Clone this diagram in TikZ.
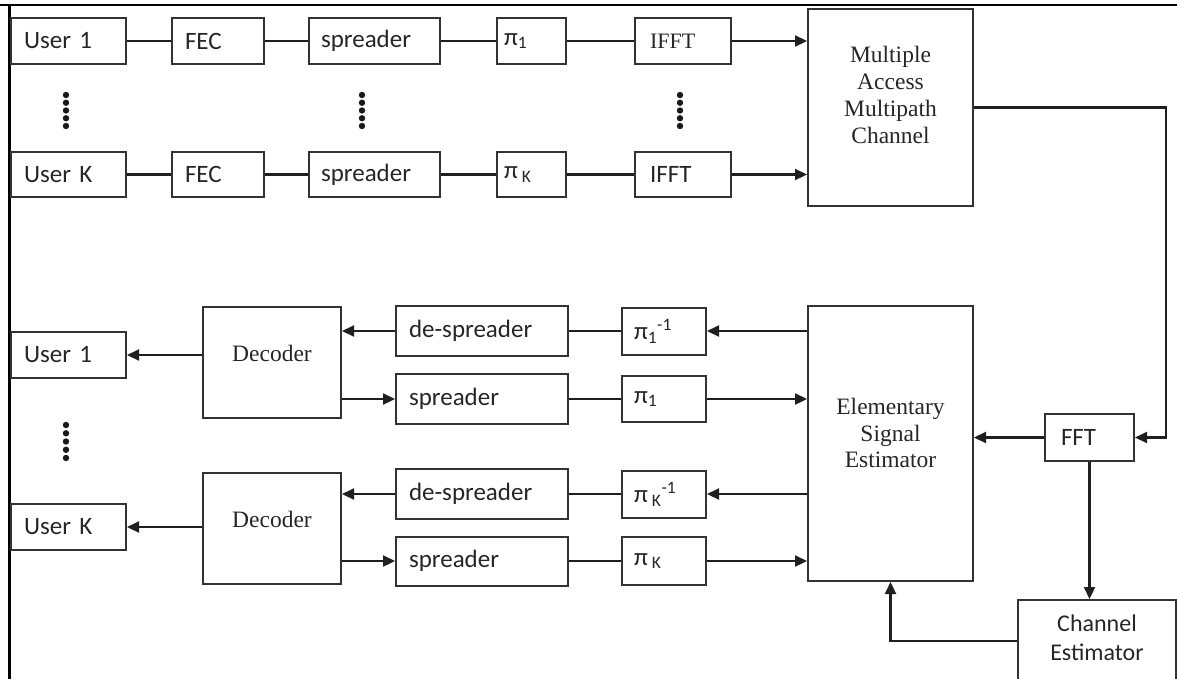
\documentclass[tikz,border=0pt]{standalone}
\usepackage{fontspec}
\setmainfont{Liberation Serif}
\newfontfamily\calib{Carlito}
\usetikzlibrary{arrows.meta}
\begin{document}
\begin{tikzpicture}[x=1pt,y=-1pt,
  box/.style={draw=black!80, line width=2pt, inner sep=0pt, text=black!85},
  sbox/.style={box, font=\calib\fontsize{25}{29}\selectfont, align=left},
  rbox/.style={box, font=\fontsize{22}{26}\selectfont, align=left},
  tlabel/.style={font=\fontsize{23.5}{26.8}\selectfont, align=center, inner sep=0pt, text=black!85},
  clabel/.style={font=\calib\fontsize{24}{29}\selectfont, align=center, inner sep=0pt, text=black!85},
  conn/.style={line width=2.2pt, draw=black!88},
  arr/.style={conn, -{Triangle[length=12pt,width=11pt]}},
  frame/.style={line width=2.6pt, draw=black}
]
\useasboundingbox (0,0) rectangle (1177,678);
\clip (0,0) rectangle (1177,678);

% outer frame lines
\draw[frame] (0,5) -- (1177,5);
\draw[frame] (9.5,5) -- (9.5,680);

% ---- transmitter rows ----
\node[sbox, minimum width=115pt, minimum height=46pt, text width=89pt, inner xsep=13pt] (u1t) at (68.5,41) {User 1};
\node[sbox, minimum width=92pt, minimum height=46pt, text width=66pt, inner xsep=13pt] (fec1) at (218,41) {FEC};
\node[sbox, minimum width=131pt, minimum height=46pt, text width=107pt, inner xsep=12pt] (spr1t) at (374.5,41) {spreader};
\node[sbox, minimum width=69pt, minimum height=46pt, text width=55pt, inner xsep=7pt] (pi1t) at (531.5,41) {π\textsubscript{1}};
\node[rbox, minimum width=96pt, minimum height=46pt, text width=66pt, inner xsep=15pt] (ifft1) at (683,41) {IFFT};

\node[sbox, minimum width=115pt, minimum height=45pt, text width=89pt, inner xsep=13pt] (ukt) at (68.5,174.5) {User K};
\node[sbox, minimum width=92pt, minimum height=45pt, text width=66pt, inner xsep=13pt] (feck) at (218,174.5) {FEC};
\node[sbox, minimum width=131pt, minimum height=45pt, text width=107pt, inner xsep=12pt] (sprkt) at (374.5,174.5) {spreader};
\node[sbox, minimum width=69pt, minimum height=45pt, text width=55pt, inner xsep=7pt] (pikt) at (531.5,174.5) {π\,\textsubscript{K}};
\node[sbox, minimum width=96pt, minimum height=45pt, text width=66pt, inner xsep=15pt] (ifftk) at (683,174.5) {IFFT};

\node[box, minimum width=165pt, minimum height=197pt] (mac) at (890.5,107.5) {};
\node[tlabel] (mact) at (890.5,95) {Multiple\\Access\\Multipath\\Channel};

\draw[conn] (u1t) -- (fec1) (fec1) -- (spr1t) (spr1t) -- (pi1t) (pi1t) -- (ifft1);
\draw[conn] (ukt) -- (feck) (feck) -- (sprkt) (sprkt) -- (pikt) (pikt) -- (ifftk);
\draw[arr] (ifft1.east) -- (ifft1.east -| mac.west);
\draw[arr] (ifftk.east) -- (ifftk.east -| mac.west);

% dots
\foreach \xx in {66,362,680}{
  \foreach \i in {0,...,4}{ \fill[black!90] (\xx,95+\i*7.75) circle (3.2pt); }
}
\foreach \i in {0,...,4}{ \fill[black!90] (66,425+\i*8.25) circle (3.2pt); }

% ---- receiver ----
\node[sbox, minimum width=115pt, minimum height=46pt, text width=89pt, inner xsep=13pt] (u1b) at (68.5,355) {User 1};
\node[sbox, minimum width=115pt, minimum height=46pt, text width=89pt, inner xsep=13pt] (ukb) at (68.5,527) {User K};

\node[box, minimum width=138pt, minimum height=111pt] (dec1) at (272,362.5) {};
\node[tlabel] (dec1t) at (272,353) {Decoder};
\node[box, minimum width=138pt, minimum height=111pt] (deck) at (272,528.5) {};
\node[tlabel] (deckt) at (272,519) {Decoder};

\node[sbox, minimum width=172pt, minimum height=50pt, text width=146pt, inner xsep=13pt] (desp1) at (482,331) {de-spreader};
\node[sbox, minimum width=172pt, minimum height=50pt, text width=146pt, inner xsep=13pt] (spr1b) at (482,399) {spreader};
\node[sbox, minimum width=172pt, minimum height=50pt, text width=146pt, inner xsep=13pt] (despk) at (482,494) {de-spreader};
\node[sbox, minimum width=172pt, minimum height=49pt, text width=146pt, inner xsep=13pt] (sprkb) at (482,561) {spreader};

\node[sbox, minimum width=84pt, minimum height=47pt, text width=60pt, inner xsep=12pt] (pinv1) at (664,331) {π\textsubscript{1}\textsuperscript{-1}};
\node[sbox, minimum width=84pt, minimum height=46pt, text width=60pt, inner xsep=12pt] (pi1b) at (664,399) {π\textsubscript{1}};
\node[sbox, minimum width=84pt, minimum height=47pt, text width=60pt, inner xsep=12pt] (pinvk) at (664,494) {π\,\textsubscript{K}\textsuperscript{-1}};
\node[sbox, minimum width=84pt, minimum height=48pt, text width=60pt, inner xsep=12pt] (pikb) at (664,561) {π\,\textsubscript{K}};

\node[box, minimum width=165pt, minimum height=275pt] (ese) at (890.5,443.5) {};
\node[tlabel] (eset) at (890.5,433) {Elementary\\Signal\\Estimator};

\node[sbox, minimum width=89pt, minimum height=47pt, text width=57pt, inner xsep=16pt] (fft) at (1089.5,437.5) {FFT};

\node[box, minimum width=158pt, minimum height=82pt] (ce) at (1097,641) {};
\node[clabel] (cet) at (1097,637.5) {Channel\\Estimator};

% receiver connectors
\draw[arr] (pinv1.east -| ese.west) -- (pinv1.east);
\draw[conn] (pinv1) -- (desp1);
\draw[arr] (desp1.west) -- (desp1.west -| dec1.east);
\draw[arr] (spr1b.west -| dec1.east) -- (spr1b.west);
\draw[conn] (spr1b) -- (pi1b);
\draw[arr] (pi1b.east) -- (pi1b.east -| ese.west);

\draw[arr] (pinvk.east -| ese.west) -- (pinvk.east);
\draw[conn] (pinvk) -- (despk);
\draw[arr] (despk.west) -- (despk.west -| deck.east);
\draw[arr] (sprkb.west -| deck.east) -- (sprkb.west);
\draw[conn] (sprkb) -- (pikb);
\draw[arr] (pikb.east) -- (pikb.east -| ese.west);

\draw[arr] (u1b.east -| dec1.west) -- (u1b.east);
\draw[arr] (ukb.east -| deck.west) -- (ukb.east);

% channel path
\coordinate (rt) at (1166,107.5);
\draw[arr] (mac.east) -- (rt) |- (fft.east);
\draw[arr] (fft.west) -- (fft.west -| ese.east);
\draw[arr] (fft.south) -- (fft.south |- ce.north);
\draw[arr] (ce.west) -| (ese.south);
\end{tikzpicture}
\end{document}
